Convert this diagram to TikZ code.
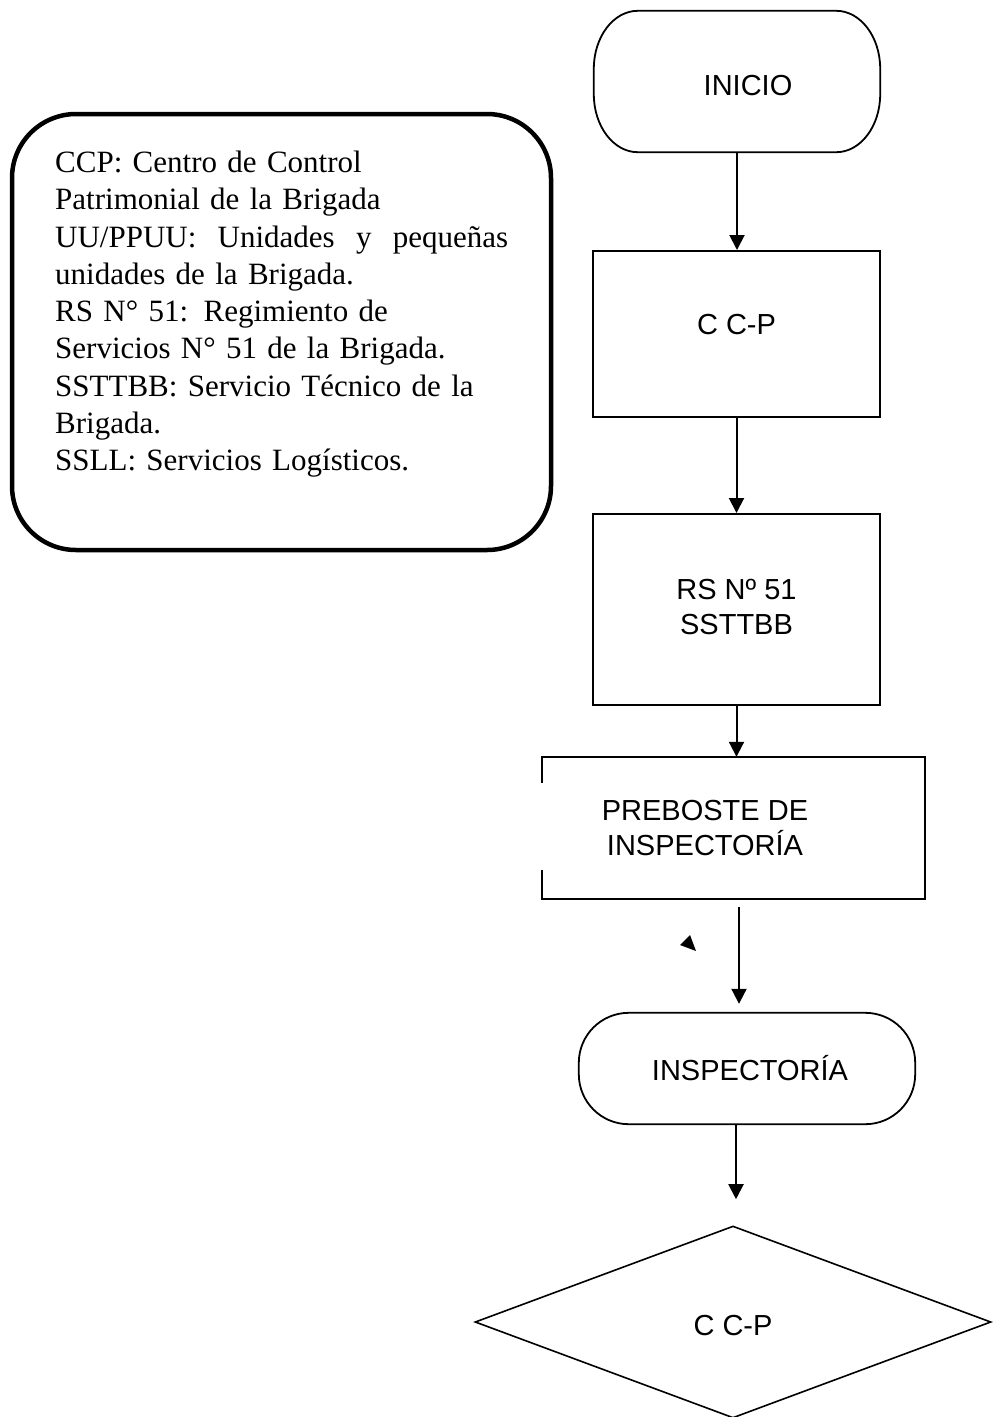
\documentclass[tikz,border=0pt]{standalone}
\usepackage{fontspec}
\setmainfont{Liberation Serif}
\newfontfamily\arialfont{Liberation Sans}
\usetikzlibrary{arrows.meta,shapes.geometric}

% terminator outline drawn around an (undrawn) node: #1 name, #2 x radius, #3 y radius
\newcommand\terminatorshape[3]{%
  \draw[line width=1.8pt]
    ([xshift=#2]#1.north west) -- ([xshift=-#2]#1.north east)
    arc[start angle=90, end angle=0, x radius=#2, y radius=#3]
    -- ([yshift=#3]#1.south east)
    arc[start angle=0, end angle=-90, x radius=#2, y radius=#3]
    -- ([xshift=#2]#1.south west)
    arc[start angle=-90, end angle=-180, x radius=#2, y radius=#3]
    -- ([yshift=-#3]#1.north west)
    arc[start angle=180, end angle=90, x radius=#2, y radius=#3]
    -- cycle;}

\begin{document}
\begin{tikzpicture}[x=1pt,y=-1pt,
  frame/.style={inner sep=0pt},
  box/.style={draw, line width=2pt, inner sep=0pt},
  lbl/.style={font=\arialfont\fontsize{29}{35}\selectfont, align=center, inner sep=0pt},
  arr/.style={line width=2pt, -{Triangle[length=15pt,width=15pt]}},
]
\useasboundingbox (0,0) rectangle (997,1417);

% legend
\node[draw, line width=4.5pt, rounded corners=64pt, inner sep=0pt,
      minimum width=539pt, minimum height=436pt] (legend) at (281.5,332) {};
\node[anchor=north west, inner sep=0pt, text width=453pt, align=left,
      font=\fontsize{31}{37.25}\selectfont] (legtext) at (55,151) {%
CCP: Centro de Control\\
Patrimonial de la Brigada\\
\leavevmode\hbox to 453pt{UU/PPUU:\hfill Unidades\hfill y\hfill pequeñas}\\
unidades de la Brigada.\\
RS N° 51: Regimiento de\\
Servicios N° 51 de la Brigada.\\
SSTTBB: Servicio Técnico de la\\
Brigada.\\
SSLL: Servicios Logísticos.};

% flow
\node[frame, minimum width=286pt, minimum height=141pt] (inicio) at (737,81.5) {};
\terminatorshape{inicio}{44pt}{58pt}
\node[lbl] (inicio-t) at ([xshift=11pt,yshift=-4pt]inicio.center) {INICIO};

\node[box, minimum width=287pt, minimum height=166pt] (ccp1) at (736.5,334) {};
\node[lbl] (ccp1-t) at ([yshift=9pt]ccp1.center) {C C-P};

\node[box, minimum width=287pt, minimum height=191pt] (rs) at (736.5,609.5) {};
\node[lbl] (rs-t) at ([yshift=3pt]rs.center) {RS Nº 51\\SSTTBB};

\node[frame, minimum width=383pt, minimum height=142pt] (preboste) at (733.5,828) {};
\draw[line width=2pt] ([yshift=-26pt]preboste.north west) -- (preboste.north west)
  -- (preboste.north east) -- (preboste.south east) -- (preboste.south west)
  -- ([yshift=29pt]preboste.south west);
\node[lbl] (preboste-t) at ([xshift=-28.5pt]preboste.center) {PREBOSTE DE\\INSPECTORÍA};

\node[frame, minimum width=336pt, minimum height=111pt] (insp) at (747,1068.5) {};
\terminatorshape{insp}{50pt}{50pt}
\node[lbl] (insp-t) at ([xshift=3pt,yshift=0pt]insp.center) {INSPECTORÍA};

\node[draw, diamond, line width=1.6pt, inner sep=0pt,
      minimum width=516pt, minimum height=192pt] (dec) at (733,1322) {};
\node[lbl] (dec-t) at ([yshift=-3pt]dec.center) {C C-P};

% connectors
\draw[arr] (inicio.south) -- (inicio.south |- ccp1.north);
\draw[arr] (ccp1.south) -- (ccp1.south |- rs.north);
\draw[arr] (rs.south) -- (rs.south |- preboste.north);
\draw[arr, shorten <=8pt, shorten >=9pt] ([xshift=5.5pt]preboste.south)
  -- ([xshift=5.5pt]preboste.south |- insp.north);
\draw[arr, shorten >=26pt] ([xshift=-11pt]insp.south)
  -- ([xshift=-11pt]insp.south |- dec.north);

% small stray arrowhead
\fill (690,935) -- (680,945) -- (696,951) -- cycle;
\end{tikzpicture}
\end{document}
